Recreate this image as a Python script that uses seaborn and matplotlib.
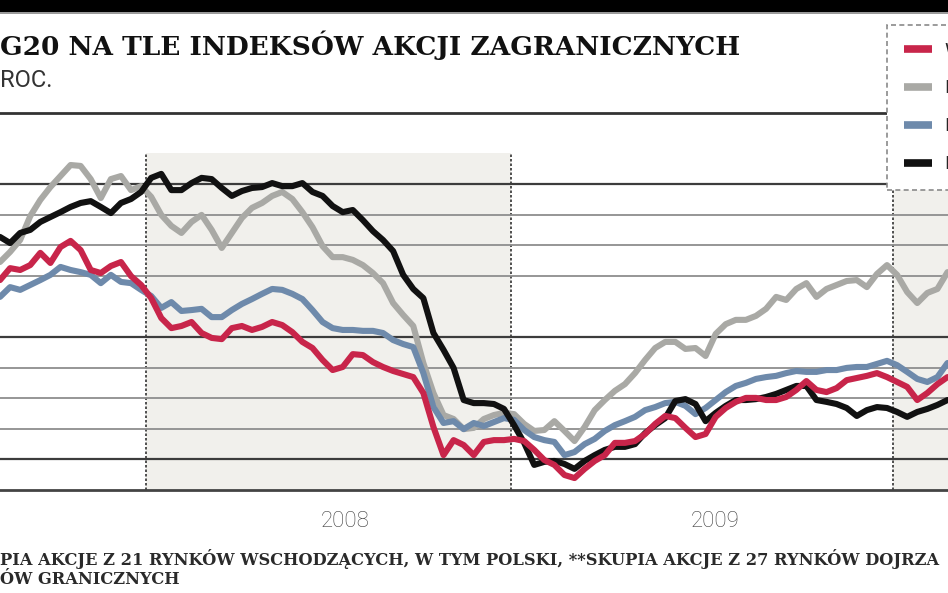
import numpy as np
import pandas as pd
import matplotlib
matplotlib.use("Agg")
import matplotlib.pyplot as plt
from matplotlib.lines import Line2D
from matplotlib.patches import Rectangle
import seaborn as sns

# ---------------- data ----------------
start_date = "2007-08-07"
n_points = 95
step = "10D"

wig20 = [68.6, 72.5, 71.9, 73.5, 77.5, 74.2, 79.4, 81.4, 78.4, 71.9,
         70.9, 73.2, 74.5, 69.9, 67.0, 62.7, 56.2, 52.9, 53.6, 54.9,
         51.3, 49.7, 49.3, 52.9, 53.6, 52.3, 53.3, 54.9, 53.9, 51.6,
         48.4, 46.4, 42.5, 39.2, 40.2, 44.4, 44.1, 41.8, 40.2, 38.9,
         37.9, 36.9, 31.7, 20.6, 11.4, 16.3, 14.7, 11.4, 15.7, 16.3,
         16.3, 16.7, 16.0, 13.1, 9.8, 8.2, 4.9, 3.9, 6.9, 9.5,
         11.4, 15.4, 15.4, 16.0, 18.3, 21.6, 24.2, 23.5, 20.3, 17.3,
         18.3, 23.9, 26.8, 28.8, 30.1, 30.1, 29.4, 29.4, 30.4, 32.7,
         35.6, 32.7, 32.0, 33.3, 35.9, 36.6, 37.3, 38.2, 36.9, 35.3,
         33.7, 29.4, 31.7, 34.6, 36.9]

emerging = [74.5, 77.8, 81.7, 89.5, 94.8, 99.0, 102.6, 106.2, 105.9, 101.6,
            95.4, 101.6, 102.6, 98.0, 99.3, 95.8, 89.9, 86.3, 84.0, 87.6,
            89.9, 85.0, 79.1, 84.0, 88.9, 92.2, 93.8, 96.1, 97.4, 95.1,
            90.8, 85.9, 79.7, 76.1, 76.1, 75.2, 73.5, 70.9, 67.6, 61.1,
            57.2, 53.6, 41.5, 31.7, 24.5, 23.2, 19.9, 20.3, 23.2, 24.5,
            25.2, 24.8, 21.6, 19.3, 19.6, 22.5, 19.3, 16.0, 20.6, 26.1,
            29.4, 32.4, 34.6, 38.2, 42.5, 46.4, 48.4, 48.4, 46.1, 46.4,
            43.8, 51.0, 54.2, 55.6, 55.6, 56.9, 59.2, 63.1, 62.1, 65.7,
            67.6, 63.1, 65.7, 67.0, 68.3, 68.6, 66.3, 70.6, 73.5, 70.3,
            64.7, 61.1, 64.4, 65.7, 71.2]

world = [63.1, 66.3, 65.4, 67.0, 68.6, 70.3, 72.9, 71.9, 71.2, 70.3,
         67.6, 70.3, 68.0, 67.6, 65.4, 63.4, 59.5, 61.4, 58.5, 58.8,
         59.2, 56.5, 56.5, 58.8, 60.8, 62.4, 64.1, 65.7, 65.4, 64.1,
         62.4, 58.8, 54.9, 52.9, 52.3, 52.3, 52.0, 52.0, 51.3, 49.0,
         47.7, 46.7, 38.2, 27.1, 21.9, 22.5, 19.9, 21.9, 20.9, 22.2,
         23.5, 22.9, 19.6, 17.3, 16.3, 15.7, 11.4, 12.4, 15.0, 16.7,
         19.3, 21.2, 22.5, 23.9, 26.1, 27.1, 28.4, 28.8, 27.5, 24.8,
         26.8, 29.4, 32.0, 34.0, 35.0, 36.3, 36.9, 37.3, 38.2, 38.9,
         38.6, 38.6, 39.2, 39.2, 39.9, 40.2, 40.2, 41.2, 42.2, 40.8,
         38.6, 36.3, 35.3, 36.9, 41.5]

frontier = [82.7, 80.7, 84.0, 85.0, 87.6, 89.2, 90.8, 92.5, 93.8, 94.4,
            92.5, 90.5, 93.8, 95.1, 97.4, 102.0, 103.3, 98.0, 98.0, 100.3,
            102.0, 101.6, 98.7, 96.1, 97.7, 98.7, 99.0, 100.3, 99.3, 99.3,
            100.3, 97.4, 96.1, 92.8, 90.8, 91.5, 88.2, 84.6, 81.7, 78.1,
            70.3, 65.7, 62.7, 51.3, 45.8, 39.9, 29.4, 28.4, 28.4, 28.1,
            26.5, 21.2, 15.4, 8.2, 9.2, 9.5, 8.5, 6.9, 9.5, 11.4,
            13.1, 14.1, 14.1, 15.0, 18.6, 21.2, 23.5, 29.1, 29.7, 28.1,
            22.5, 25.2, 27.5, 29.4, 29.4, 29.7, 30.4, 31.4, 32.7, 34.0,
            34.0, 29.4, 28.8, 28.1, 26.8, 24.2, 26.1, 27.1, 26.8, 25.5,
            23.9, 25.5, 26.5, 27.8, 29.4]

series_labels = ["WIG20", "MSCI Emerging Markets*", "MSCI World", "MSCI Frontier Markets**"]
series_colors = ["#c8254a", "#a9a9a5", "#6e8aab", "#111111"]
draw_order = ["MSCI Emerging Markets*", "MSCI World", "MSCI Frontier Markets**", "WIG20"]

year_bounds = ["2007-12-30", "2008-12-26", "2010-01-09"]
year_label_dates = ["2008-07-14", "2009-07-16"]
year_labels = ["2008", "2009"]
grid_values = [10, 20, 30, 40, 50, 70, 80, 90, 100]
dark_grid = [10, 50, 100]
x_range = ["2007-08-07", "2010-03-04 12:00"]
y_range = [0, 123.2]
shade_top = 110

title = "G20 NA TLE INDEKSÓW AKCJI ZAGRANICZNYCH"
subtitle = "ROC."
footnote1 = "PIA AKCJE Z 21 RYNKÓW WSCHODZĄCYCH, W TYM POLSKI, **SKUPIA AKCJE Z 27 RYNKÓW DOJRZA"
footnote2 = "ÓW GRANICZNYCH"

# ---------------- build table ----------------
dates = pd.date_range(start_date, periods=n_points, freq=step)
df = pd.DataFrame({
    "date": np.tile(dates, 4),
    "value": np.concatenate([wig20, emerging, world, frontier]),
    "series": np.repeat(series_labels, n_points),
})
palette = dict(zip(series_labels, series_colors))

# ---------------- figure ----------------
sns.set_style("white")
plt.rcParams["font.family"] = ["DejaVu Sans"]

W, H = 948, 593
fig = plt.figure(figsize=(W / 100, H / 100), dpi=100)
ax = fig.add_axes([0, 103 / H, 1, 377 / H])
ax.set_facecolor("white")

# shaded years
ax.axvspan(pd.Timestamp(year_bounds[0]), pd.Timestamp(year_bounds[1]),
           ymin=0, ymax=shade_top / y_range[1], color="#f1f0ec", lw=0, zorder=0)
ax.axvspan(pd.Timestamp(year_bounds[2]), pd.Timestamp(x_range[1]),
           ymin=0, ymax=shade_top / y_range[1], color="#f1f0ec", lw=0, zorder=0)

# horizontal grid
for v in grid_values:
    if v in dark_grid:
        ax.axhline(v, color="#3c3c3c", lw=1.6, zorder=1)
    else:
        ax.axhline(v, color="#8e8e8e", lw=1.3, zorder=1)

# year boundaries
ax.vlines(pd.to_datetime(year_bounds), 0, shade_top, colors="#333333",
          linestyles=(0, (1.5, 1.2)), lw=1.2, zorder=1.5)

sns.lineplot(data=df, x="date", y="value", hue="series", hue_order=draw_order,
             palette=palette, linewidth=4.4, legend=False, ax=ax,
             estimator=None, sort=False)
for ln in ax.get_lines():
    ln.set_solid_joinstyle("round")
    ln.set_solid_capstyle("round")
    ln.set_zorder(3)

ax.set_xlim(pd.Timestamp(x_range[0]), pd.Timestamp(x_range[1]))
ax.set_ylim(*y_range)
ax.set_xlabel("")
ax.set_ylabel("")
ax.set_yticks([])
ax.set_xticks(pd.to_datetime(year_label_dates))
ax.set_xticklabels(year_labels, family=["Roboto", "DejaVu Sans"], weight="light",
                   fontsize=16, color="#3f3f3f")
ax.tick_params(axis="x", length=0, pad=15)
for s in ["left", "right"]:
    ax.spines[s].set_visible(False)
ax.spines["top"].set_color("#333333")
ax.spines["top"].set_linewidth(2)
ax.spines["bottom"].set_color("#444444")
ax.spines["bottom"].set_linewidth(2)

# top black band
fig.add_artist(Rectangle((0, 1 - 12 / H), 1, 12 / H, transform=fig.transFigure,
                         color="black", lw=0))
fig.add_artist(Rectangle((0, 1 - 14 / H), 1, 2 / H, transform=fig.transFigure,
                         color="#9a9a9a", lw=0))

# titles
fig.text(0.0, 1 - 55 / H, title, family=["DejaVu Serif"], weight="bold",
         fontsize=19, color="#111111", ha="left", va="baseline")
fig.text(0.0, 1 - 87 / H, subtitle, family=["Roboto", "DejaVu Sans"],
         fontsize=17, color="#333333", ha="left", va="baseline")

# footnotes
fig.text(0.0, 1 - 565 / H, footnote1, family=["DejaVu Serif"], weight="bold",
         fontsize=11.7, color="#2a2a2a", ha="left", va="baseline")
fig.text(0.0, 1 - 584 / H, footnote2, family=["DejaVu Serif"], weight="bold",
         fontsize=11.7, color="#2a2a2a", ha="left", va="baseline")

# legend
handles = [Line2D([], [], color=c, lw=5.5, solid_capstyle="butt") for c in series_colors]
leg = fig.legend(handles, series_labels, loc="upper left",
                 bbox_to_anchor=(887 / W, 1 - 25 / H), bbox_transform=fig.transFigure,
                 frameon=True, fancybox=False, fontsize=13, handlelength=1.55,
                 labelspacing=1.1, borderpad=0.92, handletextpad=0.72,
                 borderaxespad=0)
fr = leg.get_frame()
fr.set_edgecolor("#8a8a8a")
fr.set_linestyle((0, (3, 2)))
fr.set_linewidth(1.2)
fr.set_facecolor("white")
fr.set_alpha(1)

fig.savefig("out.png", dpi=100)
